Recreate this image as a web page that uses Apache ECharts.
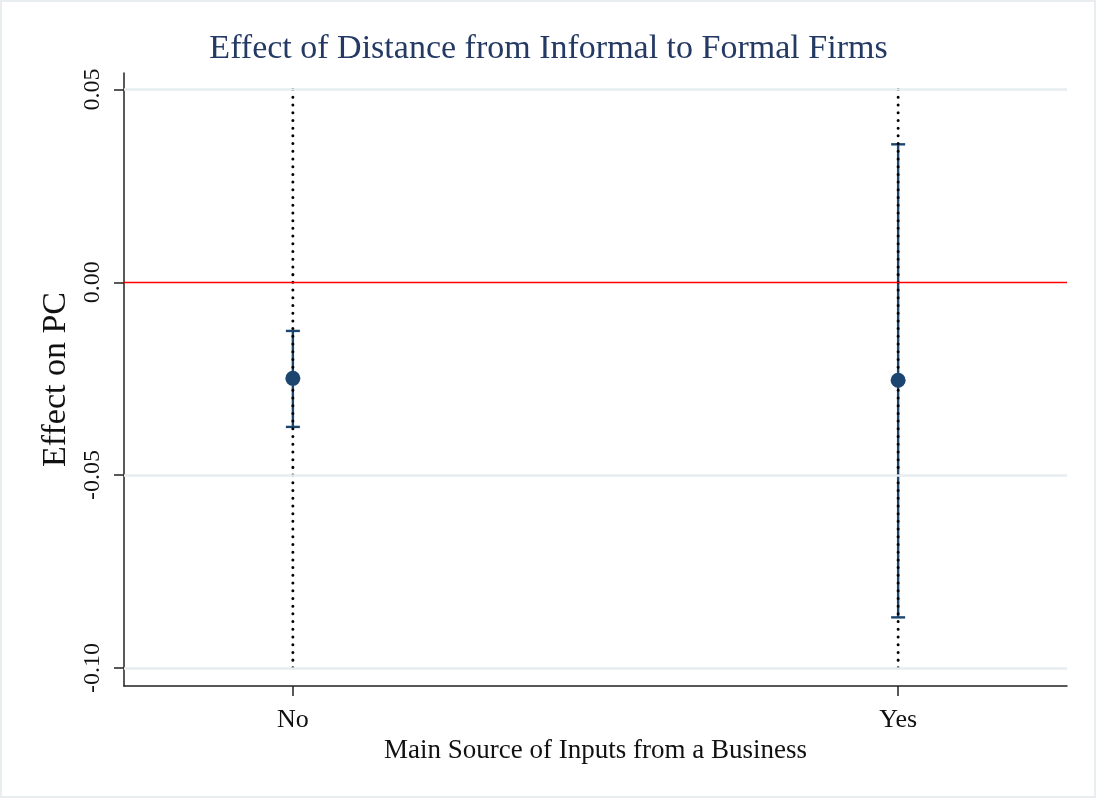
<!DOCTYPE html>
<html>
<head>
<meta charset="utf-8">
<script src="https://cdn.jsdelivr.net/npm/echarts@6/dist/echarts.min.js"></script>
<style>
  html, body { margin: 0; padding: 0; background: #ffffff; }
  #chart { width: 1097px; height: 799px; }
</style>
</head>
<body>
<div id="chart"></div>
<script>
// Groups on the horizontal axis and their positions
const categories = ['No', 'Yes'];
const positions = [1, 2];

// Point estimates and 95% confidence bounds
const estimates = [-0.0249, -0.0254];
const lowerBounds = [-0.0375, -0.0869];
const upperBounds = [-0.0126, 0.0358];

// Vertical axis ticks and reference lines
const yTicks = [-0.10, -0.05, 0.00, 0.05];
const zeroLine = 0;
const guideTop = 0.05;
const guideBottom = -0.10;

const serif = '"Liberation Serif", "DejaVu Serif", serif';
const navy = '#1c4670';

const chart = echarts.init(document.getElementById('chart'), null, { renderer: 'canvas' });

const guideData = [];
positions.forEach((p) => {
  guideData.push([p, guideTop], [p, guideBottom], '-');
});

const option = {
  backgroundColor: '#ffffff',
  animation: false,
  title: {
    text: 'Effect of Distance from Informal to Formal Firms',
    left: 'center',
    top: 27,
    textStyle: { fontFamily: serif, fontWeight: 'normal', fontSize: 34, color: '#243a64' }
  },
  grid: { left: 124, right: 30, top: 73, bottom: 113, containLabel: false },
  xAxis: {
    type: 'value',
    min: 0.721,
    max: 2.279,
    name: 'Main Source of Inputs from a Business',
    nameLocation: 'middle',
    nameGap: 49,
    nameTextStyle: { fontFamily: serif, fontSize: 27, color: '#111' },
    axisLine: { show: true, onZero: false, lineStyle: { color: '#222', width: 1.5 } },
    axisTick: { show: true, customValues: positions, length: 10, lineStyle: { color: '#222', width: 1.5 } },
    axisLabel: {
      customValues: positions,
      formatter: (v) => categories[positions.indexOf(Math.round(v))] || '',
      fontFamily: serif, fontSize: 26, color: '#111', margin: 21
    },
    splitLine: { show: false }
  },
  yAxis: {
    type: 'value',
    min: -0.1047,
    max: 0.0543,
    name: 'Effect on PC',
    nameLocation: 'middle',
    nameGap: 45,
    nameRotate: 90,
    nameTextStyle: { fontFamily: serif, fontSize: 34, color: '#111' },
    axisLine: { show: true, onZero: false, lineStyle: { color: '#222', width: 1.5 } },
    axisTick: { show: true, customValues: yTicks, length: 10, lineStyle: { color: '#222', width: 1.5 } },
    axisLabel: {
      customValues: yTicks,
      rotate: 90,
      formatter: (v) => v.toFixed(2),
      fontFamily: serif, fontSize: 24, color: '#111', margin: 19
    },
    splitLine: { show: false }
  },
  series: [
    {
      // light horizontal grid at each labelled tick, plus the red zero line
      type: 'line',
      data: [],
      silent: true,
      z: 1,
      markLine: {
        silent: true,
        symbol: 'none',
        label: { show: false },
        data: yTicks.filter((t) => t !== zeroLine).map((t) => ({
          yAxis: t, lineStyle: { color: '#e6eeef', width: 2.6, type: 'solid' }
        })).concat([{ yAxis: zeroLine, lineStyle: { color: '#ff0000', width: 1.4, type: 'solid' } }])
      }
    },
    {
      // confidence intervals with caps
      type: 'custom',
      z: 3,
      data: positions.map((p, i) => [p, lowerBounds[i], upperBounds[i]]),
      renderItem: (params, api) => {
        const lo = api.coord([api.value(0), api.value(1)]);
        const hi = api.coord([api.value(0), api.value(2)]);
        const half = 7;
        const style = { stroke: navy, lineWidth: 2.4 };
        return {
          type: 'group',
          children: [
            { type: 'line', shape: { x1: lo[0], y1: lo[1], x2: hi[0], y2: hi[1] }, style },
            { type: 'line', shape: { x1: lo[0] - half, y1: lo[1], x2: lo[0] + half, y2: lo[1] }, style },
            { type: 'line', shape: { x1: hi[0] - half, y1: hi[1], x2: hi[0] + half, y2: hi[1] }, style }
          ]
        };
      }
    },
    {
      // dotted vertical guides at each group
      type: 'line',
      z: 4,
      data: guideData,
      showSymbol: false,
      symbol: 'none',
      silent: true,
      connectNulls: false,
      lineStyle: { color: '#000', width: 3, type: [0.01, 7.7], cap: 'round' }
    },
    {
      // point estimates
      type: 'scatter',
      z: 5,
      data: positions.map((p, i) => [p, estimates[i]]),
      symbol: 'circle',
      symbolSize: 15,
      itemStyle: { color: navy, opacity: 1 }
    }
  ],
  graphic: [
    {
      type: 'rect',
      silent: true,
      z: -1,
      shape: { x: 1, y: 1, width: 1094, height: 796 },
      style: { fill: 'none', stroke: '#e8eef0', lineWidth: 2 }
    }
  ]
};

chart.setOption(option);
</script>
</body>
</html>
